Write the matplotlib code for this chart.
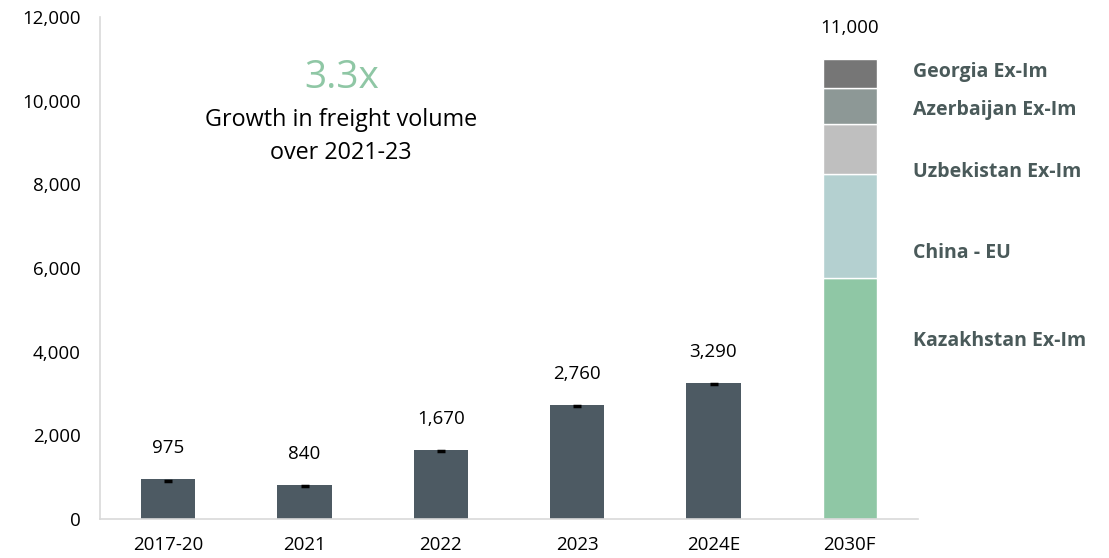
import matplotlib.pyplot as plt
import numpy as np

plt.rcParams['font.family'] = ['Open Sans', 'DejaVu Sans']

categories = ['2017-20', '2021', '2022', '2023', '2024E', '2030F']
totals = [975, 840, 1670, 2760, 3290, 11000]
hist_values = [950, 812, 1645, 2725, 3255]

segment_names = ['Kazakhstan Ex-Im', 'China - EU', 'Uzbekistan Ex-Im', 'Azerbaijan Ex-Im', 'Georgia Ex-Im']
segment_values = [5750, 2500, 1200, 850, 700]
segment_colors = ['#8fc7a5', '#b4d0d0', '#bfbfbf', '#8d9896', '#767676']
segment_label_y = [4250, 6350, 8300, 9770, 10680]

bar_color = '#4d5a63'
label_color = '#4a5a5a'

fig = plt.figure(figsize=(11.09, 5.58), dpi=100)
ax = fig.add_axes([100 / 1109, 39 / 558, 818 / 1109, 502 / 558])

x = np.arange(len(categories))
width = 0.4

# historical bars
ax.bar(x[:5], hist_values, width, color=bar_color, zorder=2)
# small black marks near the top of each historical bar
ax.plot(x[:5], [v - 30 for v in hist_values], linestyle='none', marker='_',
        markersize=6, markeredgewidth=2.5, color='black', zorder=3)

# stacked forecast bar
bottom = 0
for val, col in zip(segment_values, segment_colors):
    ax.bar(x[5], val, width, bottom=bottom, color=col, edgecolor='white',
           linewidth=1, zorder=2)
    bottom += val

# value labels
for xi, t, h in zip(x, totals, hist_values + [sum(segment_values)]):
    ax.text(xi, h + 740, f'{t:,}', ha='center', va='center', fontsize=13.5, color='black')

# segment labels to the right
for name, yy in zip(segment_names, segment_label_y):
    ax.text(5.465, yy, name, ha='left', va='center', fontsize=14, fontweight='bold',
            color=label_color, clip_on=False)

# annotation
ax.text(1.27, 10540, '3.3x', ha='center', va='center', fontsize=28, color='#8fc7a5')
ax.text(1.27, 9150, 'Growth in freight volume\nover 2021-23', ha='center', va='center',
        fontsize=16.8, color='black', linespacing=1.5)

ax.set_xlim(-0.5, 5.5)
ax.set_ylim(0, 12000)
ax.set_yticks(range(0, 12001, 2000))
ax.yaxis.set_major_formatter(plt.FuncFormatter(lambda v, p: f'{int(v):,}'))
ax.set_xticks(x)
ax.set_xticklabels(categories)
ax.tick_params(axis='both', length=0, labelsize=13.5, colors='black')
ax.tick_params(axis='x', pad=12)
ax.tick_params(axis='y', pad=14)

for s in ['top', 'right']:
    ax.spines[s].set_visible(False)
for s in ['left', 'bottom']:
    ax.spines[s].set_color('#d9d9d9')
    ax.spines[s].set_linewidth(1.2)

fig.savefig('out.png', dpi=100)
